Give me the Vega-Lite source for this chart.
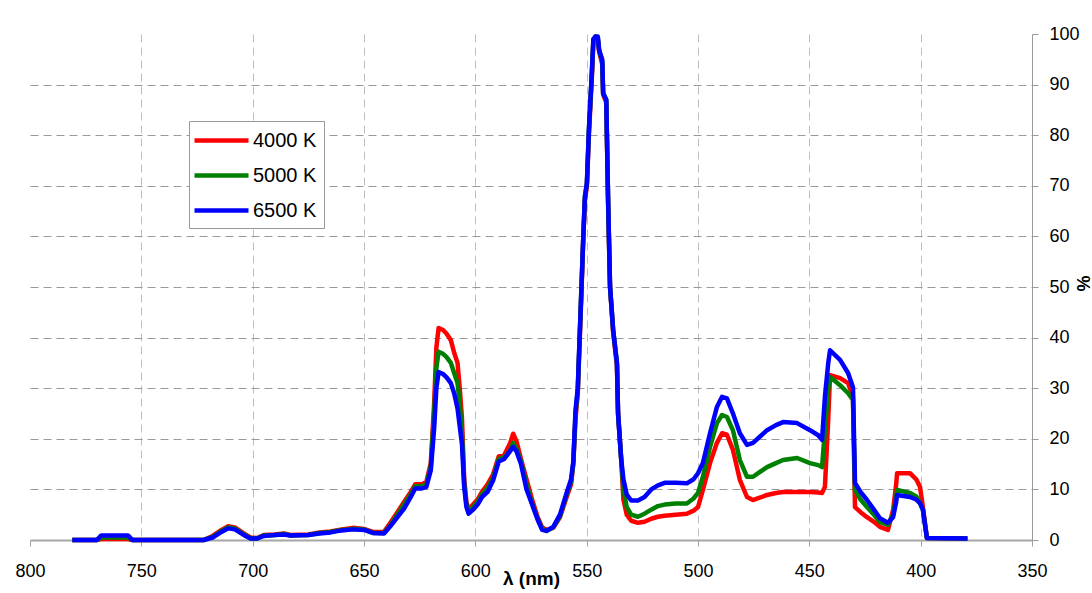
{
  "$schema": "https://vega.github.io/schema/vega-lite/v6.json",
  "autosize": "none",
  "width": 1002,
  "height": 506,
  "padding": {"left": 30, "top": 34, "right": 60, "bottom": 53},
  "background": "white",
  "config": {"view": {"stroke": null}, "font": "Liberation Sans"},
  "datasets": {
    "r": [{"l":781,"v":0},{"l":770,"v":0},{"l":768,"v":0.2},{"l":756,"v":0.2},{"l":754,"v":0},{"l":722,"v":0},{"l":718,"v":0.8},{"l":714,"v":2},{"l":711,"v":2.7},{"l":708,"v":2.5},{"l":704,"v":1.3},{"l":701,"v":0.5},{"l":698,"v":0.4},{"l":695,"v":1},{"l":690,"v":1.1},{"l":686,"v":1.3},{"l":683,"v":1},{"l":675,"v":1.1},{"l":670,"v":1.5},{"l":665,"v":1.7},{"l":660,"v":2.1},{"l":655,"v":2.4},{"l":650,"v":2.2},{"l":646,"v":1.6},{"l":641,"v":1.6},{"l":638,"v":3.5},{"l":635,"v":5.5},{"l":632,"v":7.5},{"l":629,"v":9.5},{"l":627,"v":11},{"l":624,"v":11},{"l":622,"v":11.5},{"l":620,"v":15.2},{"l":618.5,"v":27},{"l":617.5,"v":38},{"l":616.5,"v":41.9},{"l":614.5,"v":41.5},{"l":613,"v":40.8},{"l":611,"v":39.5},{"l":609.5,"v":37},{"l":608,"v":35},{"l":607,"v":30},{"l":606,"v":24},{"l":605,"v":12},{"l":604,"v":7.5},{"l":603,"v":6},{"l":601,"v":7},{"l":599,"v":8},{"l":597,"v":9.5},{"l":594.5,"v":11},{"l":592,"v":13},{"l":589.5,"v":16.5},{"l":587,"v":16.8},{"l":584.5,"v":19},{"l":583,"v":21},{"l":581.5,"v":19.5},{"l":579.5,"v":16},{"l":577,"v":12},{"l":574.5,"v":8},{"l":572,"v":4.5},{"l":570,"v":2.5},{"l":568,"v":2},{"l":565,"v":2.4},{"l":562,"v":4.5},{"l":559,"v":8.5},{"l":557,"v":11},{"l":556,"v":15},{"l":555,"v":24},{"l":554,"v":29},{"l":552.5,"v":47},{"l":551.5,"v":60},{"l":550.8,"v":67},{"l":549.9,"v":70},{"l":549,"v":80},{"l":547.6,"v":92},{"l":547,"v":98.5},{"l":546,"v":99.5},{"l":545,"v":99},{"l":544.4,"v":96.5},{"l":543,"v":94},{"l":542.6,"v":88},{"l":541.2,"v":86.5},{"l":540.4,"v":67},{"l":539.5,"v":50},{"l":538.1,"v":41},{"l":536.4,"v":34.5},{"l":535.9,"v":25},{"l":534.5,"v":16},{"l":533.5,"v":8},{"l":532,"v":5},{"l":530,"v":3.8},{"l":527,"v":3.4},{"l":524,"v":3.6},{"l":521,"v":4.2},{"l":518,"v":4.6},{"l":515,"v":4.8},{"l":510,"v":5},{"l":505,"v":5.2},{"l":502,"v":5.8},{"l":500,"v":6.5},{"l":497.8,"v":9.9},{"l":494.6,"v":15.2},{"l":491.5,"v":19.2},{"l":489.2,"v":21.1},{"l":487,"v":20.8},{"l":484.3,"v":17.8},{"l":481.2,"v":11.9},{"l":478,"v":8.5},{"l":475.3,"v":7.9},{"l":472,"v":8.4},{"l":469,"v":8.9},{"l":465,"v":9.3},{"l":461.8,"v":9.5},{"l":455.5,"v":9.5},{"l":449.7,"v":9.5},{"l":446,"v":9.4},{"l":444.3,"v":9.3},{"l":443,"v":10.5},{"l":441.5,"v":24},{"l":440.7,"v":32.6},{"l":436.2,"v":32},{"l":432.6,"v":31},{"l":430.4,"v":28.3},{"l":429.5,"v":6.5},{"l":427,"v":5.5},{"l":424.1,"v":4.5},{"l":421,"v":3.6},{"l":418.3,"v":2.6},{"l":414.7,"v":2},{"l":412.4,"v":5.9},{"l":411,"v":11},{"l":410.6,"v":13.2},{"l":404.8,"v":13.2},{"l":402,"v":12},{"l":400.3,"v":10.5},{"l":399,"v":6.5},{"l":397.2,"v":0.4},{"l":379,"v":0.3}],
    "g": [{"l":781,"v":0},{"l":770,"v":0},{"l":768,"v":0.5},{"l":756,"v":0.5},{"l":754,"v":0},{"l":722,"v":0},{"l":718,"v":0.6},{"l":714,"v":1.8},{"l":711,"v":2.5},{"l":708,"v":2.3},{"l":704,"v":1.1},{"l":701,"v":0.4},{"l":698,"v":0.3},{"l":695,"v":0.9},{"l":690,"v":1},{"l":686,"v":1.2},{"l":683,"v":0.9},{"l":675,"v":1},{"l":670,"v":1.4},{"l":665,"v":1.6},{"l":660,"v":2},{"l":655,"v":2.2},{"l":650,"v":2.1},{"l":646,"v":1.4},{"l":641,"v":1.4},{"l":638,"v":3},{"l":635,"v":5},{"l":632,"v":7},{"l":629,"v":9},{"l":627,"v":10.6},{"l":624,"v":10.6},{"l":622,"v":11},{"l":620,"v":14.5},{"l":618.5,"v":25},{"l":617.5,"v":34},{"l":616.5,"v":37.2},{"l":614.5,"v":36.8},{"l":613,"v":36.2},{"l":611,"v":35},{"l":609.5,"v":33},{"l":608,"v":31},{"l":607,"v":27},{"l":606,"v":21},{"l":605,"v":11},{"l":604,"v":7},{"l":603,"v":5.5},{"l":601,"v":6.5},{"l":599,"v":7.5},{"l":597,"v":9},{"l":594.5,"v":10.3},{"l":592,"v":12.3},{"l":589.5,"v":16},{"l":587,"v":16.4},{"l":584.5,"v":17.5},{"l":583,"v":19.2},{"l":581.5,"v":18},{"l":579.5,"v":15.5},{"l":577,"v":11},{"l":574.5,"v":7.2},{"l":572,"v":4.2},{"l":570,"v":2.2},{"l":568,"v":1.8},{"l":565,"v":2.5},{"l":562,"v":4.7},{"l":559,"v":9},{"l":557,"v":11.5},{"l":556,"v":15.2},{"l":555,"v":25},{"l":554,"v":29.5},{"l":552.5,"v":48},{"l":551.5,"v":60},{"l":550.8,"v":67.8},{"l":549.9,"v":70.5},{"l":549,"v":81},{"l":547.6,"v":93},{"l":547,"v":98.8},{"l":546,"v":99.5},{"l":545,"v":99.3},{"l":544.4,"v":96.8},{"l":543,"v":94.5},{"l":542.6,"v":88.3},{"l":541.2,"v":87},{"l":540.4,"v":67.8},{"l":539.5,"v":50},{"l":538.1,"v":41.5},{"l":536.4,"v":35},{"l":535.9,"v":25},{"l":534.5,"v":16},{"l":533.5,"v":10},{"l":532,"v":6.5},{"l":530,"v":5},{"l":527,"v":4.6},{"l":524,"v":5.2},{"l":521,"v":6},{"l":518,"v":6.7},{"l":515,"v":7},{"l":510,"v":7.2},{"l":505,"v":7.2},{"l":502,"v":8.2},{"l":500,"v":9.3},{"l":497.8,"v":12.5},{"l":494.6,"v":18.4},{"l":491.5,"v":23.1},{"l":489.2,"v":24.7},{"l":487,"v":24.3},{"l":484.3,"v":21.7},{"l":481.2,"v":15.8},{"l":478,"v":12.5},{"l":475.3,"v":12.5},{"l":472,"v":13.5},{"l":469,"v":14.4},{"l":465,"v":15.2},{"l":461.8,"v":15.8},{"l":455.5,"v":16.2},{"l":449.7,"v":15.2},{"l":446,"v":14.8},{"l":444.3,"v":14.4},{"l":443,"v":21.7},{"l":441.5,"v":30},{"l":440.7,"v":32.2},{"l":436.2,"v":30.6},{"l":432.6,"v":29},{"l":430.4,"v":27.7},{"l":429.5,"v":9.9},{"l":427,"v":8},{"l":424.1,"v":6.5},{"l":421,"v":5},{"l":418.3,"v":3.6},{"l":414.7,"v":3},{"l":412.4,"v":5},{"l":411,"v":8.5},{"l":410.6,"v":9.9},{"l":404.8,"v":9.3},{"l":402,"v":8.6},{"l":400.3,"v":7.3},{"l":399,"v":6},{"l":397.2,"v":0.4},{"l":379,"v":0.3}],
    "b": [{"l":781,"v":0},{"l":770,"v":0},{"l":768,"v":0.9},{"l":756,"v":0.9},{"l":754,"v":0},{"l":722,"v":0},{"l":718,"v":0.5},{"l":714,"v":1.6},{"l":711,"v":2.3},{"l":708,"v":2.1},{"l":704,"v":1},{"l":701,"v":0.3},{"l":698,"v":0.3},{"l":695,"v":0.8},{"l":690,"v":1},{"l":686,"v":1.1},{"l":683,"v":0.9},{"l":675,"v":1},{"l":670,"v":1.3},{"l":665,"v":1.5},{"l":660,"v":1.9},{"l":655,"v":2.1},{"l":650,"v":2},{"l":646,"v":1.4},{"l":641,"v":1.3},{"l":638,"v":2.8},{"l":635,"v":4.5},{"l":632,"v":6.2},{"l":629,"v":8.5},{"l":627,"v":10.2},{"l":624,"v":10.2},{"l":622,"v":10.5},{"l":620,"v":13.8},{"l":618.5,"v":22},{"l":617.5,"v":30},{"l":616.5,"v":33.2},{"l":614.5,"v":32.8},{"l":613,"v":32.2},{"l":611,"v":31},{"l":609.5,"v":29},{"l":608,"v":26},{"l":607,"v":22.5},{"l":606,"v":19},{"l":605,"v":10.5},{"l":604,"v":6.5},{"l":603,"v":5.2},{"l":601,"v":6},{"l":599,"v":7},{"l":597,"v":8.5},{"l":594.5,"v":9.5},{"l":592,"v":11.8},{"l":589.5,"v":15.5},{"l":587,"v":16},{"l":584.5,"v":17.5},{"l":583,"v":18.4},{"l":581.5,"v":17.5},{"l":579.5,"v":15},{"l":577,"v":10},{"l":574.5,"v":7},{"l":572,"v":4},{"l":570,"v":2},{"l":568,"v":1.8},{"l":565,"v":2.6},{"l":562,"v":5},{"l":559,"v":9.3},{"l":557,"v":12},{"l":556,"v":15.5},{"l":555,"v":25.7},{"l":554,"v":30},{"l":552.5,"v":48},{"l":551.5,"v":60},{"l":550.8,"v":67.8},{"l":549.9,"v":70.5},{"l":549,"v":81},{"l":547.6,"v":93},{"l":547,"v":99},{"l":546,"v":99.5},{"l":545,"v":99.5},{"l":544.4,"v":96.8},{"l":543,"v":94.9},{"l":542.6,"v":88.3},{"l":541.2,"v":87},{"l":540.4,"v":67.8},{"l":539.5,"v":50},{"l":538.1,"v":41.5},{"l":536.4,"v":35},{"l":535.9,"v":25},{"l":534.5,"v":16},{"l":533.5,"v":12},{"l":532,"v":9},{"l":530,"v":7.8},{"l":527,"v":7.8},{"l":524,"v":8.5},{"l":521,"v":10},{"l":518,"v":10.8},{"l":515,"v":11.3},{"l":510,"v":11.3},{"l":505,"v":11.2},{"l":502,"v":12},{"l":500,"v":13.2},{"l":497.8,"v":15.2},{"l":494.6,"v":21.1},{"l":491.5,"v":26.3},{"l":489.2,"v":28.3},{"l":487,"v":28},{"l":484.3,"v":25},{"l":481.2,"v":21.1},{"l":478,"v":18.8},{"l":475.3,"v":19.2},{"l":472,"v":20.5},{"l":469,"v":21.7},{"l":465,"v":22.7},{"l":461.8,"v":23.3},{"l":455.5,"v":23.1},{"l":449.7,"v":21.7},{"l":446,"v":20.7},{"l":444.3,"v":19.8},{"l":443,"v":28.3},{"l":441.5,"v":35},{"l":440.7,"v":37.5},{"l":436.2,"v":35.6},{"l":432.6,"v":33},{"l":430.4,"v":30.2},{"l":429.5,"v":11.3},{"l":427,"v":9.5},{"l":424.1,"v":7.9},{"l":421,"v":6},{"l":418.3,"v":4.3},{"l":414.7,"v":3.4},{"l":412.4,"v":4.5},{"l":411,"v":7.5},{"l":410.6,"v":8.9},{"l":404.8,"v":8.5},{"l":402,"v":8},{"l":400.3,"v":7.3},{"l":399,"v":6},{"l":397.2,"v":0.4},{"l":379,"v":0.3}]
  },
  "layer": [
    {"data": {"name": "r"},
     "mark": {"type": "line", "strokeWidth": 4.5, "interpolate": "linear", "strokeJoin": "round"},
     "encoding": {
       "x": {"field": "l", "type": "quantitative", "scale": {"domain": [350, 800], "reverse": true, "nice": false, "zero": false},
         "axis": {"values": [800, 750, 700, 650, 600, 550, 500, 450, 400, 350], "title": "λ (nm)", "titleFont": "Liberation Sans", "titleFontSize": 19, "titleFontWeight": "bold", "titleColor": "#000", "titleY": 38, "titleBaseline": "middle", "labelFont": "Liberation Sans", "labelFontSize": 18, "labelColor": "#000", "labelPadding": 16, "labelFlush": false, "labelOverlap": false, "tickSize": 6, "tickColor": "#A0A0A0", "domainColor": "#A6A6A6", "domainWidth": 2, "grid": true, "gridDash": [8, 5], "gridColor": "#BFBFBF", "gridOpacity": {"condition": {"test": "datum.value == 800 || datum.value == 350", "value": 0}, "value": 1}}},
       "y": {"field": "v", "type": "quantitative", "scale": {"domain": [0, 100], "nice": false},
         "axis": {"orient": "right", "values": [0, 10, 20, 30, 40, 50, 60, 70, 80, 90, 100], "title": "%", "titleAngle": 90, "titleX": 49, "titleY": 249, "titleAlign": "center", "titleBaseline": "middle", "titleFont": "Liberation Sans", "titleFontSize": 18, "titleFontWeight": "bold", "titleColor": "#000", "labelFont": "Liberation Sans", "labelFontSize": 18, "labelColor": "#000", "labelPadding": 11, "labelFlush": false, "labelOverlap": false, "tickSize": 6, "tickColor": "#999", "domainColor": "#999", "grid": true, "gridDash": [8, 5], "gridColor": "#999999", "gridOpacity": {"condition": {"test": "datum.value == 0 || datum.value == 100", "value": 0}, "value": 1}}},
       "color": {"datum": "4000 K", "type": "nominal", "scale": {"domain": ["4000 K", "5000 K", "6500 K"], "range": ["#FF0000", "#008000", "#0000FF"]},
         "legend": {"orient": "none", "legendX": 159, "legendY": 87, "title": null, "symbolType": "M-1.4,0H4", "symbolSize": 400, "symbolStrokeWidth": 4.5, "labelFont": "Liberation Sans", "labelFontSize": 20, "labelColor": "#000", "labelOffset": 32, "rowPadding": 12, "padding": 7, "strokeColor": "#999", "fillColor": "#FFFFFF"}}
     }},
    {"data": {"name": "g"},
     "mark": {"type": "line", "strokeWidth": 4.5, "interpolate": "linear", "strokeJoin": "round"},
     "encoding": {"x": {"field": "l", "type": "quantitative"}, "y": {"field": "v", "type": "quantitative"}, "color": {"datum": "5000 K", "type": "nominal"}}},
    {"data": {"name": "b"},
     "mark": {"type": "line", "strokeWidth": 4.5, "interpolate": "linear", "strokeJoin": "round"},
     "encoding": {"x": {"field": "l", "type": "quantitative"}, "y": {"field": "v", "type": "quantitative"}, "color": {"datum": "6500 K", "type": "nominal"}}}
  ]
}
